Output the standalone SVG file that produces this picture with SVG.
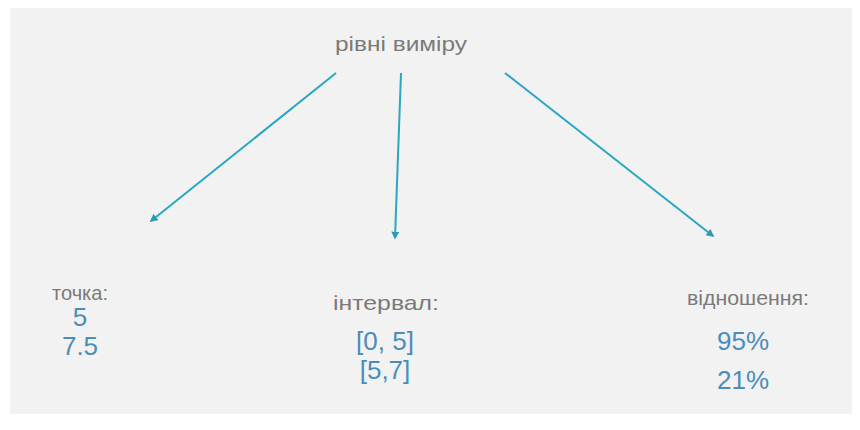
<svg xmlns="http://www.w3.org/2000/svg" width="860" height="430" viewBox="0 0 860 430">
<defs>
<style>
.lbl{font-family:"Liberation Sans Narrow","Liberation Sans",sans-serif;font-size:21px;fill:#7a7a7a;text-anchor:middle}
.num{font-family:"Liberation Sans Narrow","Liberation Sans",sans-serif;font-size:26px;fill:#4a8dbd;text-anchor:middle}
.edge{stroke:#2aa6c6;stroke-width:2;fill:none;marker-end:url(#ah)}
</style>
<marker id="ah" viewBox="0 0 10 10" refX="8" refY="5" markerWidth="4" markerHeight="4" orient="auto">
<path d="M0,0 L10,5 L0,10 z" fill="#2a9ab8"/>
</marker>
</defs>
<rect x="0" y="0" width="860" height="430" fill="#ffffff"/>
<rect x="10" y="8" width="842" height="406" fill="#f2f2f2"/>
<g id="connectors">
<line class="edge" x1="336" y1="73" x2="151" y2="221"/>
<line class="edge" x1="401" y1="73" x2="395" y2="238"/>
<line class="edge" x1="505" y1="73" x2="713" y2="236"/>
</g>
<g id="root"><text class="lbl" x="401" y="51" font-size="24" textLength="132" lengthAdjust="spacingAndGlyphs">рівні виміру</text></g>
<g id="point">
<text class="lbl" x="80" y="300" textLength="56" lengthAdjust="spacingAndGlyphs">точка:</text>
<text class="num" x="80" y="326" font-size="24">5</text>
<text class="num" x="80" y="355" font-size="24">7.5</text>
</g>
<g id="interval">
<text class="lbl" x="386" y="310" textLength="106" lengthAdjust="spacingAndGlyphs">інтервал:</text>
<text class="num" x="385" y="350">[0, 5]</text>
<text class="num" x="385" y="379">[5,7]</text>
</g>
<g id="ratio">
<text class="lbl" x="748" y="305" textLength="122" lengthAdjust="spacingAndGlyphs">відношення:</text>
<text class="num" x="743" y="350">95%</text>
<text class="num" x="743" y="389">21%</text>
</g>
</svg>
